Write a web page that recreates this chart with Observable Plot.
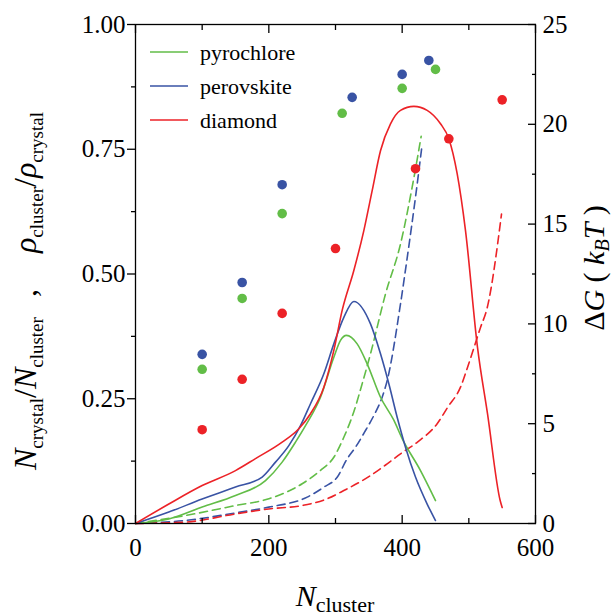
<!DOCTYPE html>
<html><head><meta charset="utf-8">
<script src="https://cdn.jsdelivr.net/npm/d3@7"></script>
<script src="https://cdn.jsdelivr.net/npm/@observablehq/plot@0.6"></script>
<style>
body{margin:0;background:#fff}
#chart svg, #chart svg text, #chart svg tspan { font-family: "Liberation Serif", "Times New Roman", serif !important; }
</style>
</head><body><div id="chart"></div>
<script>
// ---- series ----
const seriesNames = ["pyrochlore", "perovskite", "diamond"];
const seriesColors = ["#62bd47", "#3953a4", "#ec2227"];

// density ratio points (left axis)
const pyroDotN = [100, 160, 220, 310, 400, 450];
const pyroDotV = [0.309, 0.451, 0.621, 0.822, 0.872, 0.910];
const perovDotN = [100, 160, 220, 325, 400, 440];
const perovDotV = [0.339, 0.483, 0.679, 0.854, 0.900, 0.928];
const diaDotN = [100, 160, 220, 300, 420, 470, 550];
const diaDotV = [0.188, 0.289, 0.421, 0.551, 0.711, 0.771, 0.849];

// N_crystal / N_cluster (solid, left axis)
const pyroSolidN = [0, 50, 100, 150, 195, 220, 240, 255, 277.5, 297.5, 307.5, 316.5, 332.5, 347.5, 367.5, 387.5, 400, 427.5, 450];
const pyroSolidV = [0, 0.009, 0.033, 0.056, 0.086, 0.123, 0.163, 0.196, 0.253, 0.333, 0.367, 0.377, 0.360, 0.320, 0.253, 0.207, 0.170, 0.106, 0.046];
const perovSolidN = [0, 50, 100, 150, 190, 210, 230, 247.5, 262.5, 282.5, 297.5, 312.5, 327.5, 352.5, 367.5, 380, 392.5, 405, 420, 437.5, 450];
const perovSolidV = [0, 0.023, 0.049, 0.073, 0.093, 0.123, 0.156, 0.196, 0.240, 0.300, 0.360, 0.413, 0.445, 0.400, 0.340, 0.280, 0.213, 0.153, 0.093, 0.039, 0.006];
const diaSolidN = [0, 50, 100, 150, 180, 220, 245, 262.5, 282.5, 297.5, 310, 327.5, 342.5, 355, 367.5, 382.5, 397.5, 417.5, 437.5, 457.5, 470, 482.5, 495, 513, 528, 547, 550];
const diaSolidV = [0, 0.039, 0.076, 0.106, 0.130, 0.163, 0.190, 0.220, 0.273, 0.347, 0.427, 0.507, 0.587, 0.667, 0.747, 0.801, 0.828, 0.836, 0.828, 0.801, 0.771, 0.701, 0.587, 0.353, 0.220, 0.046, 0.032];

// ΔG in kBT (dashed, right axis)
const pyroDashN = [0, 75, 150, 200, 250, 277.5, 297.5, 312.5, 327.5, 340, 352.5, 375, 397.5, 415, 428.5];
const pyroDashG = [0, 0.40, 0.90, 1.24, 1.99, 2.66, 3.32, 4.32, 5.6, 7.0, 8.5, 11.5, 14.0, 16.85, 19.4];
const perovDashN = [0, 75, 150, 200, 257.5, 282.5, 302.5, 317.5, 330, 345, 357.5, 370, 377.5, 397.5, 407.5, 420, 430];
const perovDashG = [0, 0.15, 0.53, 0.82, 1.32, 1.82, 2.32, 3.24, 3.82, 4.66, 5.41, 6.33, 7.16, 11.0, 13.3, 16.35, 19.0];
const diaDashN = [0, 75, 150, 200, 250, 287.5, 312.5, 352.5, 377.5, 397.5, 422.5, 452.5, 468, 487.5, 498, 517.5, 527.5, 549];
const diaDashG = [0, 0.07, 0.48, 0.73, 0.90, 1.24, 1.65, 2.40, 2.99, 3.49, 4.07, 5.0, 5.81, 6.83, 7.82, 9.82, 10.8, 15.5];

// axes
const xMajor = [0, 200, 400, 600];
const xMinor = [100, 300, 500];
const yMajor = [0, 0.25, 0.5, 0.75, 1];
const yMinor = [0.125, 0.375, 0.625, 0.875];
const gMajor = [0, 5, 10, 15, 20, 25];
const gMinor = [2.5, 7.5, 12.5, 17.5, 22.5];
const gMax = 25;

const zip = (ns, vs, s) => ns.map((n, i) => ({n, v: vs[i], s}));
const dots = [...zip(pyroDotN, pyroDotV, 0), ...zip(perovDotN, perovDotV, 1), ...zip(diaDotN, diaDotV, 2)];
const solids = [zip(pyroSolidN, pyroSolidV, 0), zip(perovSolidN, perovSolidV, 1), zip(diaSolidN, diaSolidV, 2)];
const dashes = [zip(pyroDashN, pyroDashG, 0), zip(perovDashN, perovDashG, 1), zip(diaDashN, diaDashG, 2)];

const font = "Liberation Serif";
const fmt2 = d => d.toFixed(2);
const blank = () => "";

const plot = Plot.plot({
  width: 615, height: 616,
  marginLeft: 135, marginRight: 80, marginTop: 24, marginBottom: 93,
  style: {fontFamily: font, fontSize: "25px", color: "#000", background: "#fff"},
  x: {domain: [0, 600]},
  y: {domain: [0, 1]},
  marks: [
    // dashed ΔG
    ...dashes.map(d => Plot.line(d, {x: "n", y: p => p.v / gMax, stroke: seriesColors[d[0].s], strokeWidth: 1.6, strokeDasharray: "8,5", curve: "monotone-x"})),
    // solid lines
    ...solids.map(d => Plot.line(d, {x: "n", y: "v", stroke: seriesColors[d[0].s], strokeWidth: 1.6, curve: "monotone-x"})),
    // dots
    Plot.dot(dots, {x: "n", y: "v", r: 4.8, fill: d => seriesColors[d.s], stroke: "none"}),
    Plot.frame({stroke: "#000", strokeWidth: 1.3}),
    // bottom axis: inward ticks
    Plot.axisX(xMajor, {anchor: "bottom", tickSize: -8, tickFormat: blank, strokeWidth: 1.3, label: null}),
    Plot.axisX(xMinor, {anchor: "bottom", tickSize: -5, tickFormat: blank, strokeWidth: 1.3, label: null}),
    Plot.axisX(xMajor, {anchor: "bottom", tickSize: 0, tickPadding: 15, fontSize: 25, label: null}),
    // top axis: inward ticks
    Plot.axisX(xMajor, {anchor: "top", tickSize: -8, tickFormat: blank, strokeWidth: 1.3, label: null}),
    Plot.axisX(xMinor, {anchor: "top", tickSize: -5, tickFormat: blank, strokeWidth: 1.3, label: null}),
    // left axis: outward ticks
    Plot.axisY(yMajor, {anchor: "left", tickSize: 8, tickPadding: 2, tickFormat: fmt2, fontSize: 25, strokeWidth: 1.3, label: null}),
    Plot.axisY(yMinor, {anchor: "left", tickSize: 4, tickFormat: blank, strokeWidth: 1.3, label: null}),
    // right axis (ΔG): inward ticks
    Plot.axisY(gMajor.map(g => g / gMax), {anchor: "right", tickSize: -8, tickFormat: blank, strokeWidth: 1.3, label: null}),
    Plot.axisY(gMinor.map(g => g / gMax), {anchor: "right", tickSize: -4, tickFormat: blank, strokeWidth: 1.3, label: null}),
    Plot.axisY(gMajor.map(g => g / gMax), {anchor: "right", tickSize: 0, tickPadding: 7, fontSize: 25, tickFormat: d => String(Math.round(d * gMax)), label: null})
  ]
});

document.getElementById("chart").appendChild(plot);

// ---- titles and legend ----
const svg = d3.select(plot);
const T = svg.append("g").attr("font-family", font).attr("fill", "#000").attr("text-anchor", "start");

// left title
const lt = T.append("g").attr("transform", "translate(36,0) rotate(-90)");
const l1 = lt.append("text").attr("x", -470).attr("font-size", 32).attr("text-anchor", "start");
l1.append("tspan").attr("font-style", "italic").text("N");
l1.append("tspan").attr("font-size", 19).attr("dy", 7).text("crystal");
l1.append("tspan").attr("dy", -7).text("/");
l1.append("tspan").attr("font-style", "italic").text("N");
l1.append("tspan").attr("font-size", 19).attr("dy", 7).text("cluster");
lt.append("text").attr("x", -293).attr("font-size", 32).attr("text-anchor", "middle").text(",");
const l2 = lt.append("text").attr("x", -253).attr("font-size", 32).attr("text-anchor", "start");
l2.append("tspan").attr("font-style", "italic").text("ρ");
l2.append("tspan").attr("font-size", 19).attr("dy", 7).text("cluster");
l2.append("tspan").attr("dy", -7).text("/");
l2.append("tspan").attr("font-style", "italic").text("ρ");
l2.append("tspan").attr("font-size", 19).attr("dy", 7).text("crystal");

// right title
const rt = T.append("g").attr("transform", "translate(604,268) rotate(-90)");
const r1 = rt.append("text").attr("text-anchor", "middle").attr("font-size", 30);
r1.append("tspan").text("Δ");
r1.append("tspan").attr("font-style", "italic").text("G");
r1.append("tspan").text(" ( ");
r1.append("tspan").attr("font-style", "italic").text("k");
r1.append("tspan").attr("font-style", "italic").attr("font-size", 20).attr("dy", 5).text("B");
r1.append("tspan").attr("font-style", "italic").attr("dy", -5).text("T");
r1.append("tspan").text(" )");

// bottom title
const bt = T.append("text").attr("x", 335).attr("y", 606).attr("text-anchor", "middle").attr("font-size", 30);
bt.append("tspan").attr("font-style", "italic").text("N");
bt.append("tspan").attr("font-size", 22).attr("dy", 6).text("cluster");

// legend
const lg = T.append("g");
seriesNames.forEach((name, i) => {
  const y = 52 + i * 34;
  lg.append("line").attr("x1", 150).attr("x2", 188).attr("y1", y).attr("y2", y)
    .attr("stroke", seriesColors[i]).attr("stroke-width", 1.6);
  lg.append("text").attr("x", 200).attr("y", y + 8).attr("font-size", 22).attr("text-anchor", "start").text(name);
});
</script>
</body></html>
